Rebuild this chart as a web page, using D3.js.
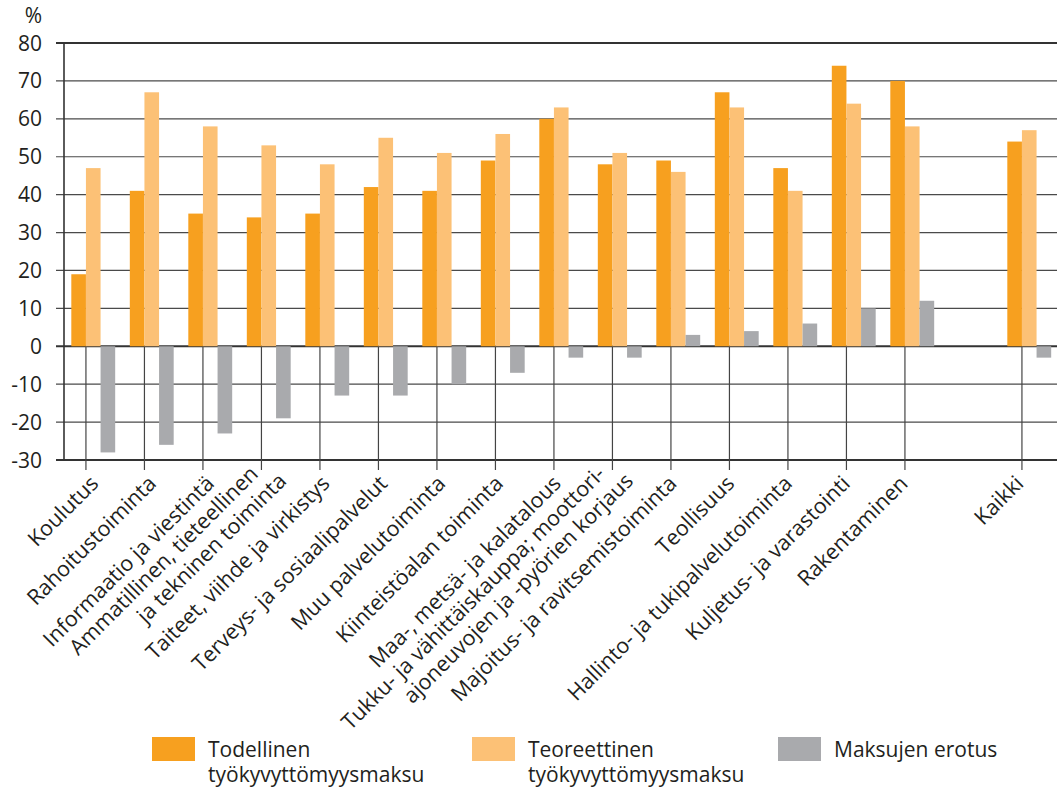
<!DOCTYPE html>
<html>
<head>
<meta charset="utf-8">
<script src="https://cdn.jsdelivr.net/npm/d3@7"></script>
<style>
  body { margin: 0; background: #fff; }
  text { font-family: "Open Sans", "Noto Sans", sans-serif; fill: #231f20; }
</style>
</head>
<body>
<svg id="chart" width="1057" height="790"></svg>
<script>
// toimialat (tyhjä paikka ennen "Kaikki")
var categories = [
  "Koulutus", "Rahoitustoiminta", "Informaatio ja viestintä",
  "Ammatillinen, tieteellinen\nja tekninen toiminta", "Taiteet, viihde ja virkistys",
  "Terveys- ja sosiaalipalvelut", "Muu palvelutoiminta", "Kiinteistöalan toiminta",
  "Maa-, metsä- ja kalatalous", "Tukku- ja vähittäiskauppa; moottori-\najoneuvojen ja -pyörien korjaus",
  "Majoitus- ja ravitsemistoiminta", "Teollisuus", "Hallinto- ja tukipalvelutoiminta",
  "Kuljetus- ja varastointi", "Rakentaminen", "", "Kaikki"
];
var todellinen   = [19, 41, 35, 34, 35, 42, 41, 49, 60, 48, 49, 67, 47, 74, 70, null, 54];
var teoreettinen = [47, 67, 58, 53, 48, 55, 51, 56, 63, 51, 46, 63, 41, 64, 58, null, 57];
var erotus       = [-28, -26, -23, -19, -13, -13, -10, -7, -3, -3, 3, 4, 6, 10, 12, null, -3];
var seriesNames = ["Todellinen\ntyökyvyttömyysmaksu", "Teoreettinen\ntyökyvyttömyysmaksu", "Maksujen erotus"];
var yTicks = [80, 70, 60, 50, 40, 30, 20, 10, 0, -10, -20, -30];

var ctx = {
  left: 64, top: 43, bottom: 460, right: 1058.5,
  colors: ["#f7a01f", "#fcc176", "#a9aaad"],
  labelFont: 21.5, legendFont: 21
};

var svg = d3.select("#chart");

var x = d3.scaleBand().domain(d3.range(categories.length)).range([ctx.left, ctx.right]).padding(0);
var step = x.step();
var xs = d3.scaleBand().domain([0, 1, 2]).range([step/8, step*7/8]).padding(0);
var y = d3.scaleLinear().domain([-30, 80]).range([ctx.bottom, ctx.top]);
// labels drift slightly left of their ticks towards the right end
var labelX = d3.scaleLinear().domain([x(0) + xs(1), x(16) + xs(1)]).range([x(0) + xs(1) + 3, x(16) + xs(1) - 8]);

// horizontal grid + y axis ticks
var grid = svg.append("g");
yTicks.forEach(function(t) {
  var strong = (t == 80 || t == 0 || t == -30);
  grid.append("line")
    .attr("x1", ctx.left - 8).attr("x2", 1057)
    .attr("y1", y(t)).attr("y2", y(t))
    .attr("stroke", strong ? "#333" : "#4a4a4a")
    .attr("stroke-width", strong ? 1.8 : 1.2);
});
grid.append("line")
  .attr("x1", ctx.left).attr("x2", ctx.left)
  .attr("y1", y(80)).attr("y2", y(-30))
  .attr("stroke", "#333").attr("stroke-width", 1.6);

// category tick lines from zero down
categories.forEach(function(c, i) {
  if (c === "") return;
  var tx = x(i) + xs(1);
  grid.append("line")
    .attr("x1", tx).attr("x2", tx)
    .attr("y1", y(0)).attr("y2", y(-30) + 10)
    .attr("stroke", "#444").attr("stroke-width", 1.2);
});

svg.append("g").selectAll("text")
  .data(yTicks).enter().append("text")
  .attr("x", 42).attr("y", function(d) { return y(d); })
  .attr("dy", "0.36em")
  .attr("text-anchor", "end")
  .style("font-size", "21px")
  .text(function(d) { return d < 0 ? "-" + Math.abs(d) : d; });

svg.append("text").attr("x", 42).attr("y", 23)
  .attr("text-anchor", "end").style("font-size", "21px").text("%");

// bars
var seriesData = [todellinen, teoreettinen, erotus];
seriesData.forEach(function(vals, s) {
  svg.append("g").selectAll("rect")
    .data(vals.map(function(v, i) { return {v: v, i: i}; }).filter(function(d) { return d.v !== null; }))
    .enter().append("rect")
    .attr("x", function(d) { return x(d.i) + xs(s); })
    .attr("width", xs.bandwidth())
    .attr("y", function(d) { return y(Math.max(0, d.v)); })
    .attr("height", function(d) { return Math.abs(y(d.v) - y(0)); })
    .attr("fill", ctx.colors[s]);
});

// rotated category labels
var lh = 25;
categories.forEach(function(c, i) {
  if (c === "") return;
  var tx = labelX(x(i) + xs(1));
  var lines = c.split("\n");
  var g = svg.append("g")
    .attr("transform", "translate(" + tx + "," + 474 + ") rotate(-45)");
  var t = g.append("text").attr("text-anchor", "end").style("font-size", ctx.labelFont + "px");
  if (lines.length == 1) {
    t.attr("dy", "0.71em").text(c);
  } else {
    lines.forEach(function(l, k) {
      t.append("tspan").attr("x", k == 0 ? -3 : 12).attr("y", k*lh - lh/2 - 4).attr("dy", "0.71em").text(l);
    });
  }
});

// legend
var legendX = [152, 472, 778];
seriesNames.forEach(function(name, s) {
  var lg = svg.append("g").attr("transform", "translate(" + legendX[s] + ",737)");
  lg.append("rect").attr("width", 43).attr("height", 24).attr("fill", ctx.colors[s]);
  name.split("\n").forEach(function(l, k) {
    lg.append("text").style("font-size", ctx.legendFont + "px")
      .attr("x", 56).attr("y", 20 + k*25).text(l);
  });
});
</script>
</body>
</html>
